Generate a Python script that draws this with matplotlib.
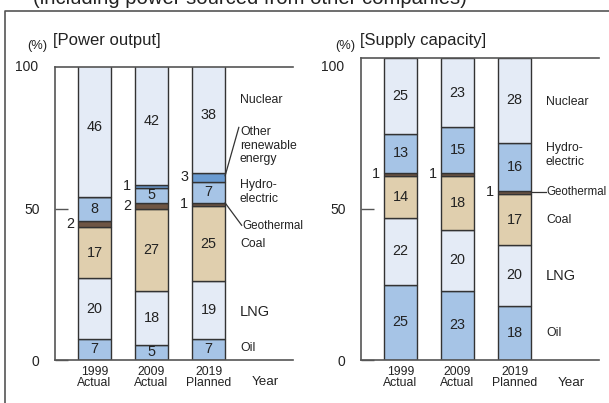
import matplotlib
matplotlib.use("Agg")
import matplotlib.pyplot as plt
from matplotlib.lines import Line2D
import numpy as np

plt.rcParams['font.family'] = ['Liberation Sans', 'DejaVu Sans']

SIDE_FS = 8.8

# ---------------- data ----------------
years = ["1999\nActual", "2009\nActual", "2019\nPlanned"]

out_oil = [7, 5, 7]
out_lng = [20, 18, 19]
out_coal = [17, 27, 25]
out_geo = [2, 2, 1]
out_hydro = [8, 5, 7]
out_other = [0, 1, 3]
out_nuclear = [46, 42, 38]

cap_oil = [25, 23, 18]
cap_lng = [22, 20, 20]
cap_coal = [14, 18, 17]
cap_geo = [1, 1, 1]
cap_hydro = [13, 15, 16]
cap_nuclear = [25, 23, 28]

# ---------------- style ----------------
C_LIGHT = "#e4ebf6"
C_MID = "#a6c4e6"
C_COAL = "#e0cfae"
C_GEO = "#6e5544"
C_OTHER = "#6a9bd1"
EDGE = "#333333"
TXT = "#222222"

W, H = 609, 403
fig = plt.figure(figsize=(W / 100, H / 100), dpi=100)

def px_axes(x0, x1, ytop, ybot):
    return fig.add_axes([x0 / W, (H - ybot) / H, (x1 - x0) / W, (ybot - ytop) / H])

def ftext(x, y, s, **kw):
    return fig.text(x / W, (H - y) / H, s, **kw)

# outer frame
fig.add_artist(Line2D([5 / W, 5 / W, 1.0], [0.0, (H - 11) / H, (H - 11) / H],
                      transform=fig.transFigure, color="#555555", lw=1.2))
ftext(33, 4, "(including power sourced from other companies)",
      fontsize=14.6, ha="left", va="baseline", color=TXT)

def draw(ax, segments, colors, ymax):
    x = np.arange(3)
    bottom = np.zeros(3)
    mids = []
    for vals, col in zip(segments, colors):
        v = np.array(vals, dtype=float)
        ax.bar(x, v, bottom=bottom, width=0.58, color=col, edgecolor=EDGE, linewidth=1.0)
        mids.append(bottom + v / 2)
        bottom = bottom + v
    ax.set_xlim(-0.693, 3.48)
    ax.set_ylim(0, ymax)
    ax.spines["right"].set_visible(False)
    for s in ["left", "bottom", "top"]:
        ax.spines[s].set_color("#555555")
        ax.spines[s].set_linewidth(1.2)
    ax.set_yticks([0, 50])
    ax.set_yticklabels(["0", "50"])
    ax.tick_params(axis="y", direction="in", length=9, width=1.0, color="#555555",
                   pad=11, labelsize=10, labelcolor=TXT)
    ax.text(-0.693 - 0.29, 97, "100", ha="right", va="center", fontsize=10, color=TXT)
    ax.set_xticks(x)
    ax.set_xticklabels(years, fontsize=8.8, linespacing=0.95, color=TXT)
    ax.tick_params(axis="x", length=0, pad=4)
    ax.text(3.0, -0.075, "Year", transform=ax.get_xaxis_transform(), fontsize=9.6,
            ha="center", va="center", color=TXT)
    return mids

def seg_labels(ax, segs, mids, min_inside=5):
    for vals, m in zip(segs, mids):
        for i, (v, y) in enumerate(zip(vals, m)):
            if v == 0:
                continue
            if v >= min_inside:
                ax.text(i, y, str(v), ha="center", va="center", fontsize=10.4, color=TXT)
            else:
                ax.text(i - 0.36, y, str(v), ha="right", va="center", fontsize=10.4, color=TXT)

def side(ax, x, y, s, fs=None, **kw):
    ax.text(x, y, s, fontsize=fs or SIDE_FS, va="center",
            linespacing=1.2, color=TXT, **kw)

# ---------------- left chart ----------------
ax1 = px_axes(55, 293, 67, 360)
segs1 = [out_oil, out_lng, out_coal, out_geo, out_hydro, out_other, out_nuclear]
cols1 = [C_MID, C_LIGHT, C_COAL, C_GEO, C_MID, C_OTHER, C_LIGHT]
mids1 = draw(ax1, segs1, cols1, 97)
seg_labels(ax1, segs1, mids1)
ftext(27, 46, "(%)", fontsize=9.3, ha="left", va="center", color=TXT)
ftext(53, 40, "[Power output]", fontsize=12, ha="left", va="center", color=TXT)

lx = 2.55
side(ax1, lx, 86, "Nuclear")
side(ax1, lx, 71, "Other\nrenewable\nenergy")
side(ax1, lx, 55.5, "Hydro-\nelectric")
side(ax1, lx + 0.04, 44.5, "Geothermal", fs=8.4)
side(ax1, lx, 38.4, "Coal")
side(ax1, lx, 16, "LNG", fs=10.5)
side(ax1, lx, 4, "Oil")
ax1.plot([2.29, 2.53], [61, 77], color="#333333", lw=0.9, clip_on=False)
ax1.plot([2.29, 2.58], [52, 44.6], color="#333333", lw=0.9, clip_on=False)

# ---------------- right chart ----------------
ax2 = px_axes(361, 599, 58, 360)
segs2 = [cap_oil, cap_lng, cap_coal, cap_geo, cap_hydro, cap_nuclear]
cols2 = [C_MID, C_LIGHT, C_COAL, C_GEO, C_MID, C_LIGHT]
mids2 = draw(ax2, segs2, cols2, 100)
seg_labels(ax2, segs2, mids2)
ftext(335, 46, "(%)", fontsize=9.3, ha="left", va="center", color=TXT)
ftext(360, 40, "[Supply capacity]", fontsize=12, ha="left", va="center", color=TXT)

side(ax2, lx, 85.4, "Nuclear")
side(ax2, lx, 67.9, "Hydro-\nelectric")
side(ax2, lx, 55.6, "Geothermal", fs=8.3)
side(ax2, lx, 46.4, "Coal")
side(ax2, lx, 27.8, "LNG", fs=10.5)
side(ax2, lx, 8.9, "Oil")
ax2.plot([2.29, 2.55], [55.5, 55.5], color="#333333", lw=0.9, clip_on=False)

fig.savefig("out.png", dpi=100)
